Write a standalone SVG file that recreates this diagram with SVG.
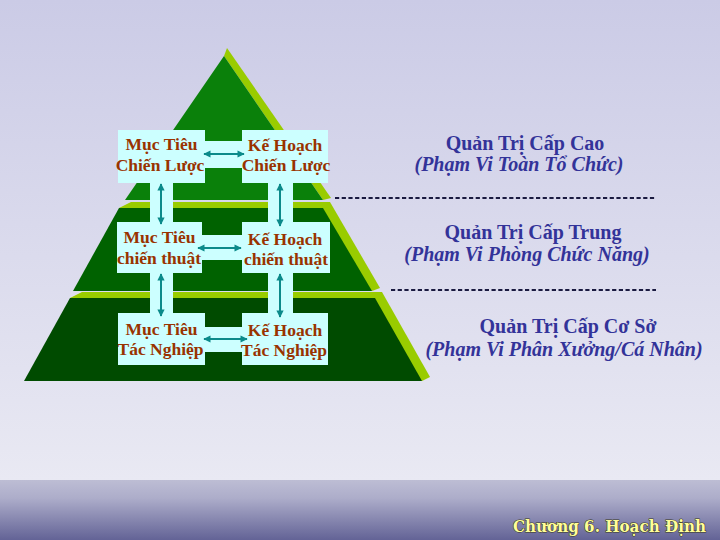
<svg xmlns="http://www.w3.org/2000/svg" width="720" height="540" viewBox="0 0 720 540">
<defs>
<linearGradient id="bg" x1="0" y1="0" x2="0" y2="1">
<stop offset="0" stop-color="#cbcbe6"/>
<stop offset="1" stop-color="#e9e9f3"/>
</linearGradient>
<linearGradient id="band" x1="0" y1="0" x2="0" y2="1">
<stop offset="0" stop-color="#bdbdd4"/>
<stop offset="0.3" stop-color="#adadca"/>
<stop offset="1" stop-color="#636396"/>
</linearGradient>
<marker id="ah" viewBox="0 0 10 10" refX="9" refY="5" markerWidth="4" markerHeight="3.6" orient="auto-start-reverse" markerUnits="strokeWidth">
<path d="M0,0 L10,5 L0,10 Z" fill="#0b8a8a"/>
</marker>
<style>
.dark1{fill:#0a800a}
.dark2{fill:#006200}
.dark3{fill:#004b00}
.lite{fill:#99cc00}
.box{fill:#ccffff}
.bt{font-family:"Liberation Serif",serif;font-weight:bold;font-size:17.5px;fill:#993300;text-anchor:middle}
.rt{font-family:"Liberation Serif",serif;font-weight:bold;font-size:20px;fill:#333399;text-anchor:middle}
.ri{font-style:italic}
.arr{stroke:#0b8a8a;stroke-width:2;fill:none;marker-start:url(#ah);marker-end:url(#ah)}
.dash{stroke:#1a1a40;stroke-width:2;stroke-dasharray:4.2 2.5}
</style>
</defs>
<rect x="0" y="0" width="720" height="480" fill="url(#bg)"/>
<rect x="0" y="480" width="720" height="60" fill="url(#band)"/>

<g id="pyramid">
<polygon class="lite" points="227,48 331,198 323,200 224,56"/>
<polygon class="dark1" points="224,56 125,200 323,200"/>
<polygon class="lite" points="131,202 330,202 380,288 372,291 119,208"/>
<polygon class="dark2" points="119,208 323,208 372,291 73,291"/>
<polygon class="lite" points="82,292 382,292 430,377 422,381 70,298"/>
<polygon class="dark3" points="70,298 375,298 422,381 24,381"/>
</g>

<g id="bands">
<rect class="box" x="200" y="141" width="48" height="27"/>
<rect class="box" x="198" y="235" width="48" height="25"/>
<rect class="box" x="200" y="327" width="48" height="25"/>
<rect class="box" x="150" y="180" width="23" height="45"/>
<rect class="box" x="268" y="180" width="25" height="45"/>
<rect class="box" x="150" y="270" width="23" height="46"/>
<rect class="box" x="268" y="270" width="25" height="46"/>
</g>

<g id="node-muctieu-chienluoc">
<rect class="box" x="118" y="130" width="87" height="53"/>
<text class="bt" x="161.5" y="150">Mục Tiêu</text>
<text class="bt" x="160" y="171">Chiến Lược</text>
</g>
<g id="node-kehoach-chienluoc">
<rect class="box" x="242" y="130" width="86" height="53"/>
<text class="bt" x="285" y="151">Kế Hoạch</text>
<text class="bt" x="286" y="171">Chiến Lược</text>
</g>
<g id="node-muctieu-chienthuat">
<rect class="box" x="117" y="222" width="85" height="51"/>
<text class="bt" x="159.5" y="243">Mục Tiêu</text>
<text class="bt" x="159" y="264">chiến thuật</text>
</g>
<g id="node-kehoach-chienthuat">
<rect class="box" x="242" y="222" width="88" height="51"/>
<text class="bt" x="285" y="245">Kế Hoạch</text>
<text class="bt" x="286" y="265">chiến thuật</text>
</g>
<g id="node-muctieu-tacnghiep">
<rect class="box" x="118" y="313" width="87" height="52"/>
<text class="bt" x="161.5" y="335">Mục Tiêu</text>
<text class="bt" x="160.5" y="355">Tác Nghiệp</text>
</g>
<g id="node-kehoach-tacnghiep">
<rect class="box" x="242" y="313" width="86" height="52"/>
<text class="bt" x="285" y="336">Kế Hoạch</text>
<text class="bt" x="284" y="356">Tác Nghiệp</text>
</g>

<g id="connectors">
<line class="arr" x1="204" y1="154" x2="244" y2="154"/>
<line class="arr" x1="198" y1="248" x2="241" y2="248"/>
<line class="arr" x1="204" y1="339" x2="247" y2="339"/>
<line class="arr" x1="161" y1="184" x2="161" y2="224"/>
<line class="arr" x1="280" y1="184" x2="280" y2="226"/>
<line class="arr" x1="161" y1="274" x2="161" y2="316"/>
<line class="arr" x1="280" y1="274" x2="280" y2="317"/>
</g>

<g id="labels">
<text class="rt" x="525" y="150">Quản Trị Cấp Cao</text>
<text class="rt ri" x="519" y="171">(Phạm Vi Toàn Tổ Chức)</text>
<text class="rt" x="533" y="239">Quản Trị Cấp Trung</text>
<text class="rt ri" x="527" y="261">(Phạm Vi Phòng Chức Năng)</text>
<text class="rt" x="568" y="333">Quản Trị Cấp Cơ Sở</text>
<text class="rt ri" x="564" y="356">(Phạm Vi Phân Xưởng/Cá Nhân)</text>
<line class="dash" x1="335" y1="198" x2="656" y2="198"/>
<line class="dash" x1="391" y1="290" x2="656" y2="290"/>
</g>

<text x="513" y="532" textLength="193" lengthAdjust="spacingAndGlyphs" style="font-family:'DejaVu Serif',serif;font-weight:bold;font-size:16px;fill:#ffff99;stroke:#3a3a20;stroke-width:1.1;paint-order:stroke">Chương 6. Hoạch Định</text>
</svg>
